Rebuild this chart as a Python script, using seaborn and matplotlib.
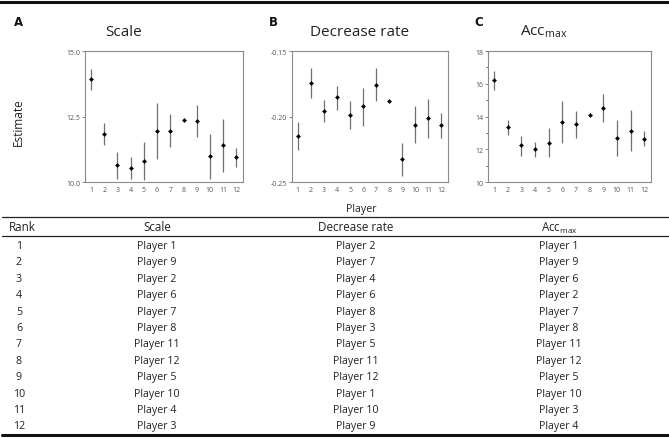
import matplotlib
matplotlib.use("Agg")
import matplotlib.pyplot as plt
import seaborn as sns
import numpy as np
import pandas as pd

sns.set_theme(style="white")
plt.rcParams['font.family'] = ['Open Sans', 'DejaVu Sans']
plt.rcParams['mathtext.fontset'] = 'custom'
plt.rcParams['mathtext.rm'] = 'Open Sans'
plt.rcParams['mathtext.it'] = 'Open Sans'

players = list(range(1, 13))

scale_est = [13.95, 11.85, 10.65, 10.54, 10.80, 11.95, 11.95, 12.35, 12.33, 10.99, 11.42, 10.94]
scale_lo = [13.52, 11.43, 10.13, 10.13, 10.06, 10.86, 11.32, 12.35, 11.71, 10.11, 10.40, 10.56]
scale_hi = [14.33, 12.25, 11.14, 10.95, 11.52, 13.00, 12.60, 12.35, 12.92, 11.84, 12.40, 11.30]

dec_est = [-0.2146, -0.1743, -0.1961, -0.1854, -0.1991, -0.1923, -0.1756, -0.1882, -0.2328, -0.2062, -0.2011, -0.2065]
dec_lo = [-0.2252, -0.1857, -0.2044, -0.1948, -0.2097, -0.2070, -0.1880, -0.1882, -0.2454, -0.2201, -0.2161, -0.2161]
dec_hi = [-0.2044, -0.1632, -0.1875, -0.1766, -0.1885, -0.1785, -0.1627, -0.1882, -0.2201, -0.1923, -0.1867, -0.1973]

acc_est = [16.22, 13.38, 12.23, 12.01, 12.41, 13.67, 13.53, 14.07, 14.52, 12.68, 13.14, 12.64]
acc_lo = [15.61, 12.90, 11.58, 11.50, 11.50, 12.37, 12.68, 14.07, 13.65, 11.56, 11.89, 12.19]
acc_hi = [16.77, 13.77, 12.82, 12.43, 13.32, 14.94, 14.32, 14.07, 15.35, 13.77, 14.38, 13.10]

panel_titles = ["Scale", "Decrease rate", "Acc$_{\\mathrm{max}}$"]
panel_letters = ["A", "B", "C"]
ylims = [(10.0, 15.0), (-0.25, -0.15), (10, 18)]
yticks = [[10.0, 12.5, 15.0], [-0.25, -0.20, -0.15], [10, 12, 14, 16, 18]]
ytick_labels = [["10.0", "12.5", "15.0"], ["-0.25", "-0.20", "-0.15"], ["10", "12", "14", "16", "18"]]

ranks = list(range(1, 13))
rank_scale = ["Player 1", "Player 9", "Player 2", "Player 6", "Player 7", "Player 8",
              "Player 11", "Player 12", "Player 5", "Player 10", "Player 4", "Player 3"]
rank_decrease = ["Player 2", "Player 7", "Player 4", "Player 6", "Player 8", "Player 3",
                 "Player 5", "Player 11", "Player 12", "Player 1", "Player 10", "Player 9"]
rank_acc = ["Player 1", "Player 9", "Player 6", "Player 2", "Player 7", "Player 8",
            "Player 11", "Player 12", "Player 5", "Player 10", "Player 3", "Player 4"]
table_headers = ["Rank", "Scale", "Decrease rate", "Acc$_{\\mathrm{max}}$"]

W, H = 669, 439
fig = plt.figure(figsize=(W / 100, H / 100), dpi=100)

def fx(px):
    return px / W

def fy(py):
    return 1 - py / H

axes_px = [(85, 243), (292, 448), (488, 651)]
top_px, bot_px = 52, 183
series = [(scale_est, scale_lo, scale_hi), (dec_est, dec_lo, dec_hi), (acc_est, acc_lo, acc_hi)]
title_x = [124, 360, 544]
letter_x = [14, 269, 474]

for i in range(3):
    l, r = axes_px[i]
    ax = fig.add_axes([fx(l), fy(bot_px), fx(r - l), (bot_px - top_px) / H])
    est, lo, hi = series[i]
    df = pd.DataFrame({"player": players, "est": est, "lo": lo, "hi": hi})
    ax.vlines(df["player"], df["lo"], df["hi"], color="#707070", linewidth=0.9, zorder=1)
    sns.scatterplot(data=df, x="player", y="est", ax=ax, marker="D", s=4.5,
                    color="black", edgecolor="black", linewidth=0.3, zorder=2, legend=False)
    ax.set_xlim(0.55, 12.5)
    ax.set_ylim(*ylims[i])
    ax.set_xticks(players)
    ax.set_xticklabels([str(p) for p in players])
    ax.set_yticks(yticks[i])
    ax.set_yticklabels(ytick_labels[i])
    if i == 2:
        ax.set_yticks([11, 13, 15, 17], minor=True)
    ax.tick_params(axis="both", labelsize=5, colors="#555555", labelcolor="#555555")
    ax.tick_params(axis="y", which="both", direction="out", length=2.5, width=0.5, left=True, pad=1)
    ax.tick_params(axis="y", which="minor", length=1.5)
    ax.tick_params(axis="x", length=0, pad=3)
    for sp in ax.spines.values():
        sp.set_color("#8a8a8a")
        sp.set_linewidth(0.8)
    ax.set_xlabel("")
    ax.set_ylabel("")
    fig.text(fx(title_x[i]), fy(32), panel_titles[i], ha="center", va="center", fontsize=11, color="#222222")
    fig.text(fx(letter_x[i]), fy(22), panel_letters[i], ha="left", va="center", fontsize=8.5,
             fontweight="bold", family=["DejaVu Sans"], color="#111111")

fig.text(fx(18), fy(122), "Estimate", rotation=90, ha="center", va="center", fontsize=8.5, color="#222222")

# Table
line_ax = fig.add_axes([0, 0, 1, 1])
line_ax.set_xlim(0, W)
line_ax.set_ylim(H, 0)
line_ax.axis("off")
line_ax.plot([0, W], [3, 3], color="#111111", linewidth=2.2)
line_ax.plot([2, W], [218, 218], color="#222222", linewidth=0.9)
line_ax.plot([2, W], [237, 237], color="#222222", linewidth=0.9)
line_ax.plot([2, W], [436, 436], color="#111111", linewidth=2.2)

fs = 7.7
line_ax.text(361, 210, "Player", ha="center", va="center", fontsize=fs, color="#222222")
col_x = [22, 157, 356, 559]
for cx, h in zip(col_x, table_headers):
    line_ax.text(cx, 228, h, ha="center", va="center", fontsize=fs + 0.7, color="#222222")

row_top, row_step = 246.5, (427 - 246.5) / 11
for k in range(12):
    yy = row_top + k * row_step
    line_ax.text(19, yy, str(ranks[k]), ha="center", va="center", fontsize=fs, color="#222222")
    line_ax.text(col_x[1], yy, rank_scale[k], ha="center", va="center", fontsize=fs, color="#222222")
    line_ax.text(col_x[2], yy, rank_decrease[k], ha="center", va="center", fontsize=fs, color="#222222")
    line_ax.text(col_x[3], yy, rank_acc[k], ha="center", va="center", fontsize=fs, color="#222222")

fig.savefig("out.png", dpi=100)
